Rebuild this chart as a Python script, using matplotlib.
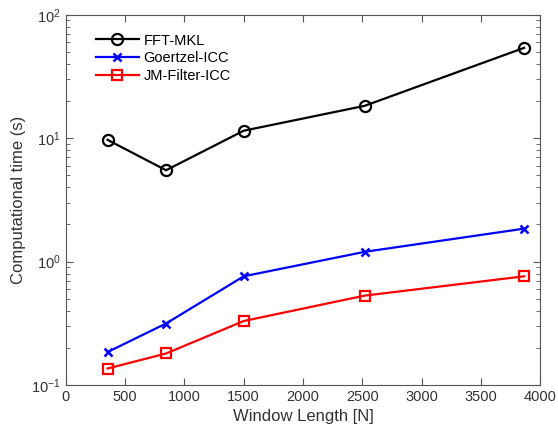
import matplotlib
matplotlib.use('Agg')
import matplotlib.pyplot as plt
from matplotlib.ticker import LogLocator, NullFormatter

# Data
window_length = [352, 845, 1500, 2520, 3865]
fft_mkl = [9.7, 5.5, 11.5, 18.3, 54.0]
goertzel_icc = [0.185, 0.315, 0.76, 1.2, 1.85]
jm_filter_icc = [0.136, 0.18, 0.33, 0.53, 0.76]

plt.rcParams['font.family'] = ['Liberation Sans', 'DejaVu Sans']
plt.rcParams['mathtext.fontset'] = 'custom'
plt.rcParams['mathtext.rm'] = 'Liberation Sans'

fig = plt.figure(figsize=(5.58, 4.36), dpi=100)
ax = fig.add_axes([0.118, 0.117, 0.850, 0.849])

ax.plot(window_length, fft_mkl, color='black', lw=1.6, marker='o',
        ms=8, mfc='none', mew=1.6, label='FFT-MKL')
ax.plot(window_length, goertzel_icc, color='blue', lw=1.6, marker='x',
        ms=6, mew=1.8, label='Goertzel-ICC')
ax.plot(window_length, jm_filter_icc, color='red', lw=1.6, marker='s',
        ms=7, mfc='none', mew=1.6, label='JM-Filter-ICC')

ax.set_yscale('log')
ax.set_xlim(0, 4000)
ax.set_ylim(0.1, 100)
ax.set_xticks(range(0, 4001, 500))
ax.yaxis.set_major_locator(LogLocator(base=10, numticks=10))
ax.yaxis.set_minor_locator(LogLocator(base=10, subs=range(2, 10), numticks=10))
ax.yaxis.set_minor_formatter(NullFormatter())

for s in ax.spines.values():
    s.set_color('#555555')
    s.set_linewidth(0.8)
ax.tick_params(which='both', direction='in', top=True, right=True,
               colors='#555555', labelcolor='#333333', labelsize=10.5)
ax.tick_params(which='major', length=5)
ax.tick_params(which='minor', length=3)

ax.set_xlabel('Window Length [N]', fontsize=12, color='#333333')
ax.set_ylabel('Computational time (s)', fontsize=12, color='#333333')

ax.legend(loc='upper left', bbox_to_anchor=(0.035, 0.985), frameon=False,
          fontsize=10.5, handlelength=3.0, labelspacing=0.25,
          handletextpad=0.3)

fig.savefig('out.png', dpi=100)
